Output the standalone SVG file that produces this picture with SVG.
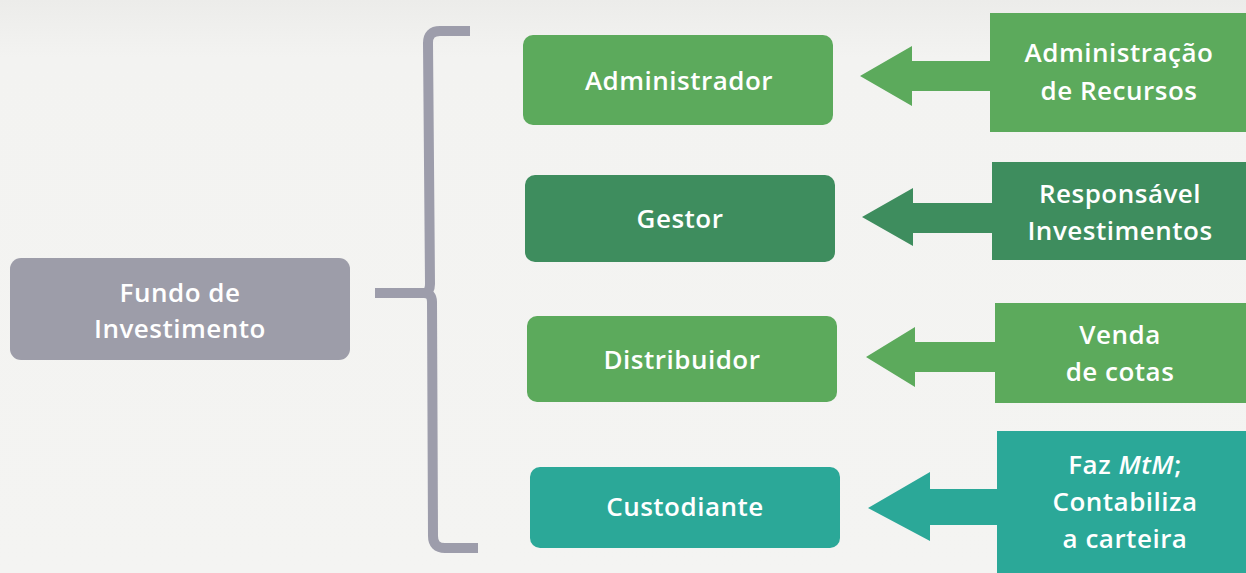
<svg xmlns="http://www.w3.org/2000/svg" width="1246" height="573" viewBox="0 0 1246 573">
<defs>
<linearGradient id="bg" x1="0" y1="0" x2="0" y2="1">
<stop offset="0" stop-color="#ececea"/>
<stop offset="0.1" stop-color="#f3f3f1"/>
<stop offset="1" stop-color="#f4f4f2"/>
</linearGradient>
</defs>
<style>
.t{font-family:"Open Sans","Liberation Sans",sans-serif;font-weight:600;font-size:26px;letter-spacing:0.5px;fill:#ffffff;text-anchor:middle;font-variant-ligatures:none}
.green{fill:#5caa5c}
.dark{fill:#3e8d5e}
.teal{fill:#2ba898}
.gray{fill:#9d9da9}
.brace{fill:none;stroke:#9d9dab;stroke-width:10;stroke-linecap:butt;stroke-linejoin:round}
</style>
<rect width="1246" height="573" fill="url(#bg)"/>
<g id="connectors">
<path class="brace" d="M470,31 L440,31 Q428,31 428,43 L430,284 Q430,293 424,293 L375,293 M424,293 Q432,293 432,302 L433,536 Q433,548 445,548 L478,548"/>
<polygon class="green" points="860,76 912,46 912,61 992,61 992,91 912,91 912,106"/>
<polygon class="dark" points="862,217 913,188 913,203 994,203 994,233 913,233 913,246"/>
<polygon class="green" points="866,357 915,327 915,342 997,342 997,372 915,372 915,387"/>
<polygon class="teal" points="868,508 930,472 930,489 999,489 999,525 930,525 930,541"/>
</g>
<g id="fundo">
<rect class="gray" x="10" y="258" width="340" height="102" rx="11"/>
<text class="t" x="180" y="302">Fundo de</text>
<text class="t" x="180" y="338">Investimento</text>
</g>
<g id="administrador">
<rect class="green" x="523" y="35" width="310" height="90" rx="10"/>
<text class="t" x="679" y="90">Administrador</text>
</g>
<g id="gestor">
<rect class="dark" x="525" y="175" width="310" height="87" rx="10"/>
<text class="t" x="680" y="228">Gestor</text>
</g>
<g id="distribuidor">
<rect class="green" x="527" y="316" width="310" height="86" rx="10"/>
<text class="t" x="682" y="369">Distribuidor</text>
</g>
<g id="custodiante">
<rect class="teal" x="530" y="467" width="310" height="81" rx="10"/>
<text class="t" x="685" y="516">Custodiante</text>
</g>
<g id="administracao-recursos">
<rect class="green" x="990" y="13" width="256" height="119"/>
<text class="t" x="1119" y="62">Administração</text>
<text class="t" x="1119" y="100">de Recursos</text>
</g>
<g id="responsavel-investimentos">
<rect class="dark" x="992" y="162" width="254" height="98"/>
<text class="t" x="1120" y="203">Responsável</text>
<text class="t" x="1120" y="240">Investimentos</text>
</g>
<g id="venda-cotas">
<rect class="green" x="995" y="303" width="251" height="100"/>
<text class="t" x="1120" y="344">Venda</text>
<text class="t" x="1120" y="381">de cotas</text>
</g>
<g id="faz-mtm">
<rect class="teal" x="997" y="431" width="249" height="142"/>
<text class="t" x="1125" y="474">Faz <tspan font-style="italic">MtM</tspan>;</text>
<text class="t" x="1125" y="511">Contabiliza</text>
<text class="t" x="1125" y="548">a carteira</text>
</g>
</svg>
